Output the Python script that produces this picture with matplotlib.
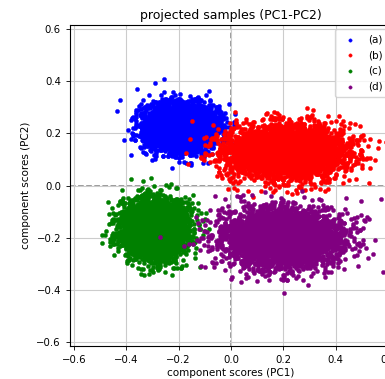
import numpy as np
import matplotlib
matplotlib.use("Agg")
import matplotlib.pyplot as plt

# cluster summaries
labels = ["(a)", "(b)", "(c)", "(d)"]
colors = ["blue", "red", "green", "purple"]
center_pc1 = [-0.195, 0.21, -0.29, 0.195]
center_pc2 = [0.225, 0.13, -0.165, -0.20]
spread_pc1 = [0.066, 0.11, 0.062, 0.11]
spread_pc2 = [0.045, 0.050, 0.054, 0.054]
counts = [4000, 4000, 4000, 4000]

ticks = [-0.6, -0.4, -0.2, 0.0, 0.2, 0.4, 0.6]

rng = np.random.default_rng(7)

fig = plt.figure(figsize=(3.85, 3.79), dpi=100)
ax = fig.add_axes([70 / 385, (379 - 346) / 379, 322 / 385, 321 / 379])

for lab, col, cx, cy, sx, sy, n in zip(labels, colors, center_pc1, center_pc2,
                                       spread_pc1, spread_pc2, counts):
    xs = rng.normal(cx, sx, n)
    ys = rng.normal(cy, sy, n)
    ax.scatter(xs, ys, s=9, c=col, label=lab, linewidths=0.3, edgecolors=col)

ax.axhline(0, color="gray", ls="--", lw=1.1, zorder=0.5)
ax.axvline(0, color="gray", ls="--", lw=1.1, zorder=0.5)
ax.set_xlim(-0.615, 0.615)
ax.set_ylim(-0.615, 0.615)
ax.set_xticks(ticks)
ax.set_yticks(ticks)
ax.grid(True, color="#cccccc", lw=0.8, zorder=0)
ax.set_axisbelow(True)
for sp in ax.spines.values():
    sp.set_linewidth(0.8)
ax.set_title("projected samples (PC1-PC2)", fontsize=9, pad=4)
ax.set_xlabel("component scores (PC1)", fontsize=7.5, labelpad=2)
ax.set_ylabel("component scores (PC2)", fontsize=7.5, labelpad=4)
ax.tick_params(labelsize=7.3, width=0.6, length=3)
ax.legend(loc="upper right", fontsize=7.5, markerscale=0.8, handletextpad=0.7,
          borderpad=0.5, labelspacing=0.55, borderaxespad=0.4)

fig.savefig("out.png", dpi=100)
